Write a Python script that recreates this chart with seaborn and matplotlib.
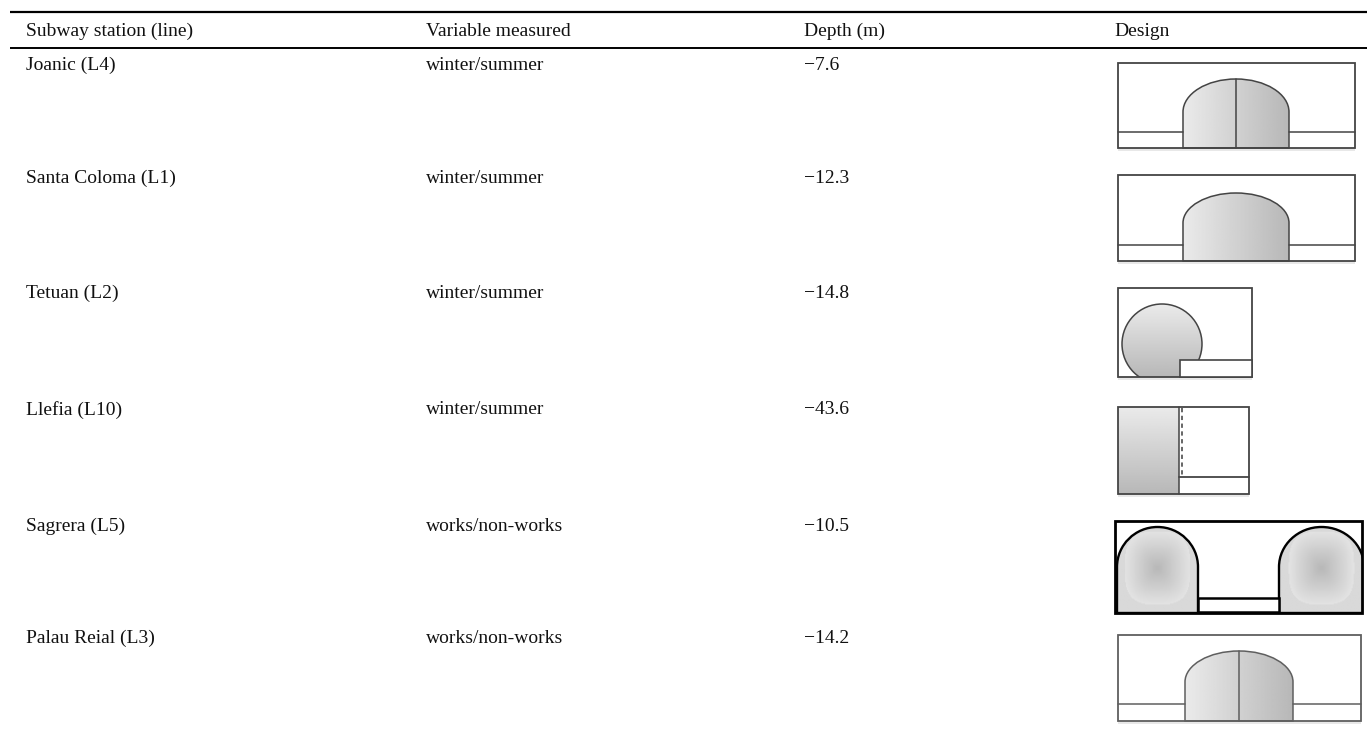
import numpy as np
import matplotlib
matplotlib.use("Agg")
import matplotlib.pyplot as plt
import seaborn as sns
from matplotlib.patches import PathPatch, Rectangle, Circle
from matplotlib.path import Path

stations = ["Joanic (L4)", "Santa Coloma (L1)", "Tetuan (L2)", "Llefia (L10)", "Sagrera (L5)", "Palau Reial (L3)"]
variables = ["winter/summer"] * 4 + ["works/non-works"] * 2
depths = ["\u22127.6", "\u221212.3", "\u221214.8", "\u221243.6", "\u221210.5", "\u221214.2"]
headers = ["Subway station (line)", "Variable measured", "Depth (m)", "Design"]

sns.set_theme(style="white")
plt.rcParams["font.family"] = ["Liberation Serif", "DejaVu Serif"]

W, H = 1367, 738
fig = plt.figure(figsize=(W / 100, H / 100), dpi=100, facecolor="white")
ax = fig.add_axes([0, 0, 1, 1])
ax.set_xlim(0, W)
ax.set_ylim(H, 0)
ax.axis("off")

col_x = [26, 426, 804, 1114]
row_y = [70, 183, 298, 414.5, 531, 643]
FS = 14.0
INK = "#111111"

for x, t in zip(col_x, headers):
    ax.text(x, 36, t, fontsize=FS, color=INK, va="baseline", ha="left")
for i in range(6):
    y = row_y[i]
    ax.text(col_x[0], y, stations[i], fontsize=FS, color=INK, va="baseline")
    ax.text(col_x[1], y, variables[i], fontsize=FS, color=INK, va="baseline")
    ax.text(col_x[2], y, depths[i], fontsize=FS, color=INK, va="baseline")

ax.plot([10, 1367], [12, 12], color="black", lw=1.6, solid_capstyle="butt")
ax.plot([10, 1367], [47.5, 47.5], color="black", lw=1.4, solid_capstyle="butt")


def grad(patch, box, horizontal=True, c0=0.92, c1=0.72):
    n = 128
    g = np.linspace(c0, c1, n)
    arr = g[None, :] if horizontal else g[:, None]
    im = ax.imshow(arr, extent=(box[0], box[1], box[3], box[2]), cmap="gray", vmin=0, vmax=1,
                   aspect="auto", zorder=1, interpolation="bilinear")
    im.set_clip_path(patch)


def dome_path(x0, x1, top, shoulder, bottom):
    k = 0.5523
    cx, rx, ry = (x0 + x1) / 2, (x1 - x0) / 2, shoulder - top
    v = [(x0, bottom), (x0, shoulder),
         (x0, shoulder - k * ry), (cx - k * rx, top), (cx, top),
         (cx + k * rx, top), (x1, shoulder - k * ry), (x1, shoulder),
         (x1, bottom), (x0, bottom)]
    c = [Path.MOVETO, Path.LINETO, Path.CURVE4, Path.CURVE4, Path.CURVE4,
         Path.CURVE4, Path.CURVE4, Path.CURVE4, Path.LINETO, Path.CLOSEPOLY]
    return Path(v, c)


def box(x0, x1, y0, y1, lw=1.3, col="#444444"):
    ax.add_patch(Rectangle((x0, y0), x1 - x0, y1 - y0, fill=False, ec=col, lw=lw, zorder=3))
    ax.add_patch(Rectangle((x0, y1), x1 - x0, 3, fc="#e8e8e8", ec="none", zorder=0))


def arch(x0, x1, bx0, bx1, y0, y1, top, sh, plat, centre, lw=1.1, col="#444444"):
    box(bx0, bx1, y0, y1, col=col)
    p = PathPatch(dome_path(x0, x1, top, sh, y1), fc="none", ec=col, lw=lw, zorder=2, transform=ax.transData)
    ax.add_patch(p)
    grad(p, (x0, x1, top, y1))
    ax.plot([bx0, x0], [plat, plat], color=col, lw=lw, zorder=3)
    ax.plot([x1, bx1], [plat, plat], color=col, lw=lw, zorder=3)
    if centre:
        ax.plot([(x0 + x1) / 2] * 2, [top, y1], color=col, lw=lw, zorder=3)


arch(1183, 1289, 1118, 1355, 63, 148, 79, 112, 132, True)
arch(1183, 1289, 1118, 1355, 175, 261, 193, 223, 245, False)
arch(1185, 1293, 1118, 1361, 635, 721, 651, 682, 704, True, col="#5f5f5f")

# Tetuan
box(1118, 1252, 288, 377)
c = Circle((1162, 344), 40, fc="none", ec="#444444", lw=1.1, zorder=2)
clip = Rectangle((1118, 288), 134, 89, transform=ax.transData)
ax.add_patch(c)
c.set_clip_path(clip)
c2 = Circle((1162, 344), 40, transform=ax.transData)
im = ax.imshow(np.linspace(0.92, 0.72, 128)[:, None], extent=(1122, 1202, 377, 304), cmap="gray",
               vmin=0, vmax=1, aspect="auto", zorder=1)
im.set_clip_path(c2)
ax.add_patch(Rectangle((1180, 360), 72, 17, fc="white", ec="#444444", lw=1.2, zorder=3))

# Llefia
box(1118, 1249, 407, 494)
ax.imshow(np.linspace(0.92, 0.72, 128)[:, None], extent=(1118, 1179, 494, 407), cmap="gray",
          vmin=0, vmax=1, aspect="auto", zorder=1)
ax.plot([1179, 1179], [407, 494], color="#444444", lw=1.1, zorder=3)
ax.plot([1182, 1182], [408, 477], color="#666666", lw=1.4, ls=(0, (2.2, 1.8)), zorder=3)
ax.plot([1179, 1249], [477, 477], color="#444444", lw=1.3, zorder=3)

# Sagrera
ax.add_patch(Rectangle((1115, 521), 247, 92, fill=False, ec="black", lw=2.0, zorder=4))
frame = Rectangle((1115, 521), 247, 92, transform=ax.transData)
for x0, x1 in [(1117, 1198), (1279, 1364)]:
    p = PathPatch(dome_path(x0, x1, 527, 567, 613), fc="none", ec="black", lw=1.7, zorder=3)
    ax.add_patch(p)
    p.set_clip_path(frame)
    cx = (x0 + x1) / 2
    xx, yy = np.meshgrid(np.linspace(x0, x1, 90), np.linspace(527, 613, 90))
    d = ((np.abs(xx - cx) / 33) ** 3 + (np.abs(yy - 568) / 37) ** 3) ** (1 / 3)
    shade = np.where(d > 1, 0.85, 0.72 + 0.17 * d)
    im = ax.imshow(shade, extent=(x0, x1, 613, 527), cmap="gray", vmin=0, vmax=1,
                   aspect="auto", zorder=1, interpolation="bilinear")
    im.set_clip_path(p)
ax.add_patch(Rectangle((1198, 598), 81, 14, fc="white", ec="black", lw=1.8, zorder=3))

ax.set_xlim(0, W)
ax.set_ylim(H, 0)
fig.savefig("out.png", dpi=100, facecolor="white")
